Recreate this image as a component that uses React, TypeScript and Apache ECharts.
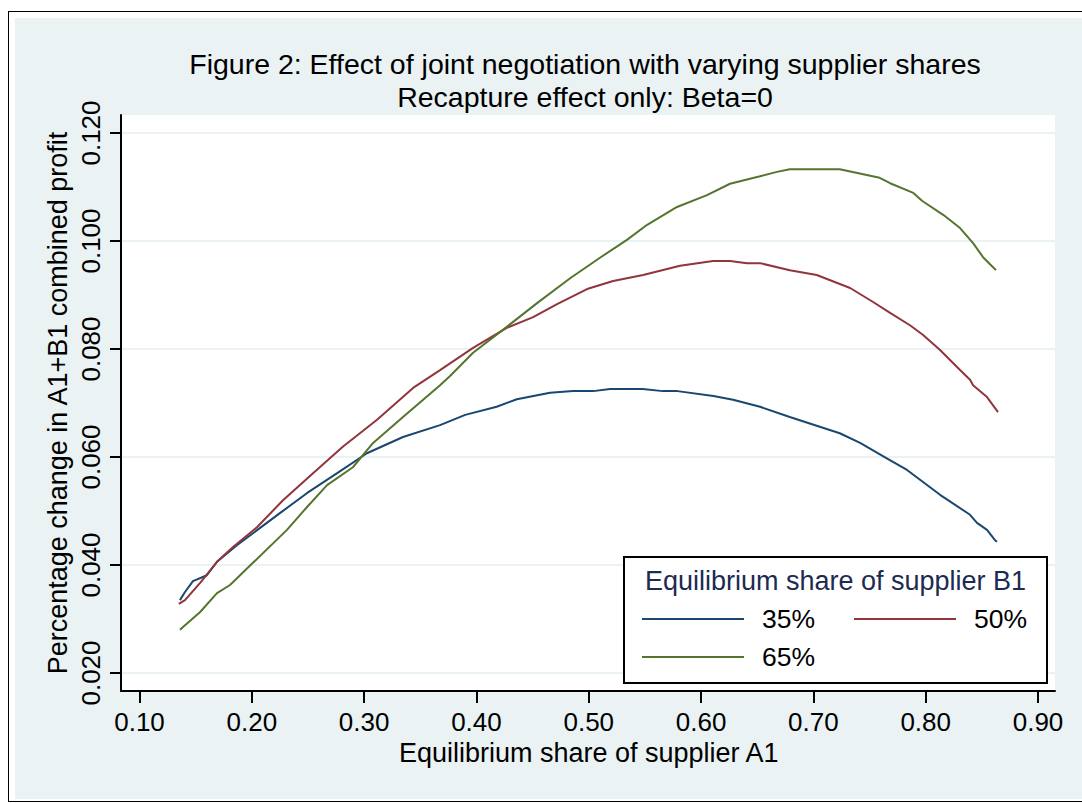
import React, { useEffect, useRef } from "react";
import * as echarts from "echarts";

const titleLines = [
  "Figure 2: Effect of joint negotiation with varying supplier shares",
  "Recapture effect only: Beta=0",
];
const xAxisTitle = "Equilibrium share of supplier A1";
const yAxisTitle = "Percentage change in A1+B1 combined profit";
const legendTitle = "Equilibrium share of supplier B1";
const seriesNames = ["35%", "50%", "65%"];
const seriesColors = ["#1a476f", "#90353b", "#55752f"];

const xMin = 0.1, xMax = 0.9, xStep = 0.1;
const yMin = 0.02, yMax = 0.12, yStep = 0.02;

const share35X = [0.136, 0.1405, 0.1476, 0.16, 0.169, 0.187, 0.205, 0.225, 0.249, 0.276, 0.3025, 0.3346, 0.3676, 0.39, 0.418, 0.436, 0.4655, 0.486, 0.504, 0.519, 0.548, 0.566, 0.579, 0.611, 0.6285, 0.6525, 0.679, 0.7235, 0.7416, 0.765, 0.7834, 0.8128, 0.8395, 0.8457, 0.8546, 0.8617, 0.8635];
const share35Y = [0.0335, 0.035, 0.037, 0.0381, 0.0406, 0.0437, 0.0465, 0.0496, 0.0533, 0.057, 0.0607, 0.0637, 0.0659, 0.0678, 0.0693, 0.0707, 0.0719, 0.0722, 0.0722, 0.0726, 0.0726, 0.0722, 0.0722, 0.0713, 0.0706, 0.0693, 0.0674, 0.0644, 0.0626, 0.0598, 0.0576, 0.053, 0.0493, 0.0478, 0.0465, 0.0446, 0.0443];

const share50X = [0.135, 0.1405, 0.154, 0.169, 0.183, 0.2046, 0.2278, 0.2545, 0.281, 0.3115, 0.3436, 0.3676, 0.397, 0.427, 0.4505, 0.4718, 0.4985, 0.5217, 0.5484, 0.5813, 0.6107, 0.6258, 0.6409, 0.6525, 0.679, 0.703, 0.7327, 0.7532, 0.7683, 0.786, 0.7977, 0.8128, 0.8306, 0.8395, 0.8422, 0.8546, 0.8644];
const share50Y = [0.0328, 0.0335, 0.0367, 0.0406, 0.0433, 0.047, 0.052, 0.057, 0.0619, 0.0669, 0.0728, 0.0761, 0.0802, 0.0839, 0.0859, 0.0883, 0.0911, 0.0926, 0.0937, 0.0954, 0.0963, 0.0963, 0.0959, 0.0959, 0.0946, 0.0937, 0.0913, 0.0887, 0.0867, 0.0844, 0.0826, 0.0798, 0.0761, 0.0743, 0.0733, 0.0711, 0.0683];

const share65X = [0.136, 0.154, 0.169, 0.1806, 0.201, 0.2313, 0.249, 0.267, 0.29, 0.308, 0.3346, 0.3676, 0.3765, 0.397, 0.427, 0.454, 0.4834, 0.51, 0.534, 0.552, 0.5786, 0.6053, 0.6258, 0.6525, 0.6676, 0.679, 0.7235, 0.759, 0.7683, 0.789, 0.797, 0.8159, 0.8306, 0.8422, 0.8511, 0.8573, 0.8626];
const share65Y = [0.028, 0.0313, 0.0348, 0.0363, 0.0404, 0.0465, 0.0507, 0.0548, 0.0581, 0.0626, 0.0674, 0.0733, 0.075, 0.0793, 0.0841, 0.0885, 0.0931, 0.0969, 0.1002, 0.103, 0.1063, 0.1085, 0.1106, 0.112, 0.1128, 0.1133, 0.1133, 0.1117, 0.1107, 0.1089, 0.1074, 0.1048, 0.1024, 0.0996, 0.097, 0.0957, 0.0946];

const seriesX = [share35X, share50X, share65X];
const seriesY = [share35Y, share50Y, share65Y];

const FONT = "'Liberation Sans', Arial, Helvetica, sans-serif";
const PANEL = "#EAF2F3";

export default function App() {
  const ref = useRef<HTMLDivElement>(null);

  useEffect(() => {
    if (!ref.current) return;
    const chart = echarts.init(ref.current, undefined, { renderer: "svg" });
    const hidden = { show: false };
    const option: any = {
      animation: false,
      backgroundColor: "transparent",
      textStyle: { fontFamily: FONT },
      grid: [
        { left: 121, right: 27, top: 115, bottom: 112, show: true, backgroundColor: "#ffffff", borderWidth: 0 },
        { left: 121, right: 27, top: 133, bottom: 130 },
        { left: 139.5, right: 44, top: 115, bottom: 112 },
        { left: 139.5, right: 44, top: 133, bottom: 130 },
      ],
      xAxis: [
        {
          gridIndex: 0, type: "value", min: 0, max: 1,
          axisLine: { show: true, onZero: false, lineStyle: { color: "#000", width: 2 } },
          axisTick: hidden, axisLabel: hidden, splitLine: hidden,
        },
        { gridIndex: 1, type: "value", min: 0, max: 1, show: false },
        {
          gridIndex: 2, type: "value", min: xMin, max: xMax, interval: xStep,
          axisLine: { show: false, onZero: false },
          axisTick: { show: true, length: 12, lineStyle: { color: "#000", width: 2 } },
          axisLabel: { show: true, margin: 18, fontSize: 26, color: "#000", fontFamily: FONT, formatter: (v: number) => v.toFixed(2) },
          splitLine: hidden,
          name: xAxisTitle, nameLocation: "middle", nameGap: 38,
          nameTextStyle: { fontSize: 27, color: "#000", fontFamily: FONT },
        },
        { gridIndex: 3, type: "value", min: xMin, max: xMax, show: false },
      ],
      yAxis: [
        {
          gridIndex: 0, type: "value", min: 0, max: 1,
          axisLine: { show: true, onZero: false, lineStyle: { color: "#000", width: 2 } },
          axisTick: hidden, axisLabel: hidden, splitLine: hidden,
          name: yAxisTitle, nameLocation: "middle", nameGap: 50, nameRotate: 90,
          nameTextStyle: { fontSize: 27, color: "#000", fontFamily: FONT },
        },
        {
          gridIndex: 1, type: "value", min: yMin, max: yMax, interval: yStep,
          axisLine: { show: false, onZero: false },
          axisTick: { show: true, length: 11, lineStyle: { color: "#000", width: 2 } },
          axisLabel: { show: true, rotate: 90, margin: 17, fontSize: 26, color: "#000", fontFamily: FONT, formatter: (v: number) => v.toFixed(3) },
          splitLine: { show: true, lineStyle: { color: PANEL, width: 2 } },
        },
        { gridIndex: 2, type: "value", min: 0, max: 1, show: false },
        { gridIndex: 3, type: "value", min: yMin, max: yMax, show: false },
      ],
      legend: {
        data: seriesNames,
        selectedMode: false,
        icon: "rect",
        left: 642, top: 605, width: 430, padding: 0,
        itemWidth: 102, itemHeight: 2, itemGap: 10,
        z: 10,
        textStyle: { fontSize: 26.5, color: "#000", fontFamily: FONT, width: 82, lineHeight: 28, padding: [0, 0, 0, 13] },
      },
      graphic: [
        {
          type: "rect", z: 5, silent: true,
          shape: { x: 624, y: 557, width: 423, height: 126 },
          style: { fill: "#ffffff", stroke: "#000", lineWidth: 2 },
        },
        {
          type: "text", z: 6, silent: true, x: 835.5, y: 581,
          style: { text: legendTitle, fill: "#1c2b52", font: `27px ${FONT}`, align: "center", verticalAlign: "middle" },
        },
        {
          type: "text", z: 6, silent: true, x: 585, y: 64,
          style: { text: titleLines[0], fill: "#000", font: `28.5px ${FONT}`, align: "center", verticalAlign: "middle" },
        },
        {
          type: "text", z: 6, silent: true, x: 585, y: 96.5,
          style: { text: titleLines[1], fill: "#000", font: `28.5px ${FONT}`, align: "center", verticalAlign: "middle" },
        },
      ],
      series: seriesNames.map((name, i) => ({
        name,
        type: "line",
        xAxisIndex: 3,
        yAxisIndex: 3,
        symbol: "none",
        showSymbol: false,
        smooth: false,
        data: seriesX[i].map((x, j) => [x, seriesY[i][j]]),
        lineStyle: { color: seriesColors[i], width: 2 },
        itemStyle: { color: seriesColors[i] },
      })),
    };
    chart.setOption(option);
    return () => chart.dispose();
  }, []);

  return (
    <div style={{ position: "absolute", left: 0, top: 0, width: 1082, height: 803, background: "#fff", overflow: "hidden" }}>
      <div style={{ position: "absolute", left: 8, top: 10.5, width: 1100, height: 791, border: "1.5px solid #000", boxSizing: "border-box", background: "#fff" }} />
      <div style={{ position: "absolute", left: 15, top: 18, width: 1067, height: 781, background: PANEL }} />
      <div ref={ref} style={{ position: "absolute", left: 0, top: 0, width: 1082, height: 803 }} />
    </div>
  );
}
